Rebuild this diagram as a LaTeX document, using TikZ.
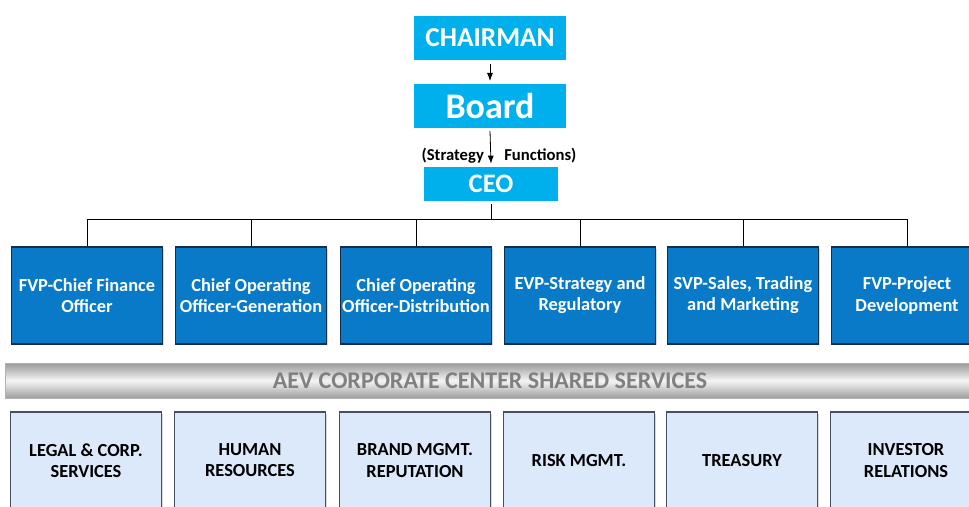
\documentclass[tikz,border=0pt]{standalone}
\usepackage{fontspec}
\setmainfont{Carlito}
\usetikzlibrary{shadows,arrows.meta}
\definecolor{chaircyan}{RGB}{0,176,236}
\definecolor{deptblue}{RGB}{8,122,200}
\definecolor{deptedge}{RGB}{20,45,75}
\definecolor{servfill}{RGB}{220,233,250}
\definecolor{servedge}{RGB}{70,80,95}
\definecolor{bartext}{RGB}{128,128,128}
\begin{document}
\begin{tikzpicture}[x=0.75pt, y=-0.75pt,
        top/.style={rectangle, draw=white, line width=2.5pt, fill=chaircyan, text=white, font=\bfseries,
            drop shadow={opacity=0.5, shadow xshift=1.2pt, shadow yshift=-1.2pt}},
        dept/.style={rectangle, draw=deptedge, line width=1.2pt, fill=deptblue, text=white, font=\bfseries\fontsize{13.8}{15.8}\selectfont,
            align=center, minimum width=113pt, minimum height=72.5pt, inner sep=1pt,
            drop shadow={opacity=0.3, shadow xshift=1pt, shadow yshift=-1pt}},
        serv/.style={rectangle, draw=servedge, line width=1.2pt, fill=servfill, text=black, font=\bfseries\fontsize{13.8}{15.8}\selectfont,
            align=center, minimum width=113pt, minimum height=72.5pt, inner sep=1pt,
            drop shadow={opacity=0.3, shadow xshift=1pt, shadow yshift=-1pt}},
        arrow/.style={-{Latex[length=6pt,width=4.5pt]}, semithick},
        link/.style={semithick}
    ]
    \clip (0,0) rectangle (969,506);
    \fill[white] (0,0) rectangle (969,506);

    % Head of the chart
    \node[top, minimum width=117pt, minimum height=36pt, font=\bfseries\fontsize{20.5}{24}\selectfont] (chair) at (490,38) {CHAIRMAN};
    \node[top, minimum width=117pt, minimum height=35pt, font=\bfseries\fontsize{27}{30}\selectfont] (board) at (490,106) {Board};
    \node[top, minimum width=103pt, minimum height=28pt, font=\bfseries\fontsize{20}{23}\selectfont] (ceo) at (491,184) {CEO};

    % Label across the Board -> CEO arrow
    \node[font=\bfseries\fontsize{12.5}{15}\selectfont] (strat) at (499,156) {(Strategy\quad\ Functions)};

    \draw[arrow] (chair.south) -- (board.north);
    \draw[arrow] (board.south) -- (ceo.north);

    % Reports of the CEO
    \node[dept] (cfo) at (87,295.5) {FVP-Chief Finance\\Officer};
    \node[dept] (coogen) at (251,295.5) {Chief Operating\\Officer-Generation};
    \node[dept] (coodis) at (416,295.5) {Chief Operating\\Officer-Distribution};
    \node[dept] (strategy) at (580,295.5) {EVP-Strategy and\\Regulatory};
    \node[dept] (sales) at (743,295.5) {SVP-Sales, Trading\\and Marketing};
    \node[dept] (project) at (907,295.5) {FVP-Project\\Development};

    % Bus line from the CEO
    \coordinate (bus) at (491,219);
    \draw[link] (ceo.south) -- (bus);
    \draw[link] (bus) -| (cfo.north);
    \draw[link] (bus) -| (coogen.north);
    \draw[link] (bus) -| (coodis.north);
    \draw[link] (bus) -| (strategy.north);
    \draw[link] (bus) -| (sales.north);
    \draw[link] (bus) -| (project.north);

    % Shared services bar
    \node[rectangle, draw=gray!60, minimum width=727pt, minimum height=26pt, inner sep=0pt,
        top color=gray!80, bottom color=gray!75, middle color=gray!8,
        text=bartext, font=\bfseries\fontsize{18}{21}\selectfont] (bar) at (490,380.5) {AEV CORPORATE CENTER SHARED SERVICES};

    % Shared services
    \node[serv] (legal) at (86,460.5) {LEGAL \& CORP.\\SERVICES};
    \node[serv] (hr) at (250,460.5) {HUMAN\\RESOURCES};
    \node[serv] (brand) at (415,460.5) {BRAND MGMT.\\REPUTATION};
    \node[serv] (risk) at (579,460.5) {RISK MGMT.};
    \node[serv] (treasury) at (742,460.5) {TREASURY};
    \node[serv] (investor) at (906,460.5) {INVESTOR\\RELATIONS};

\end{tikzpicture}
\end{document}
